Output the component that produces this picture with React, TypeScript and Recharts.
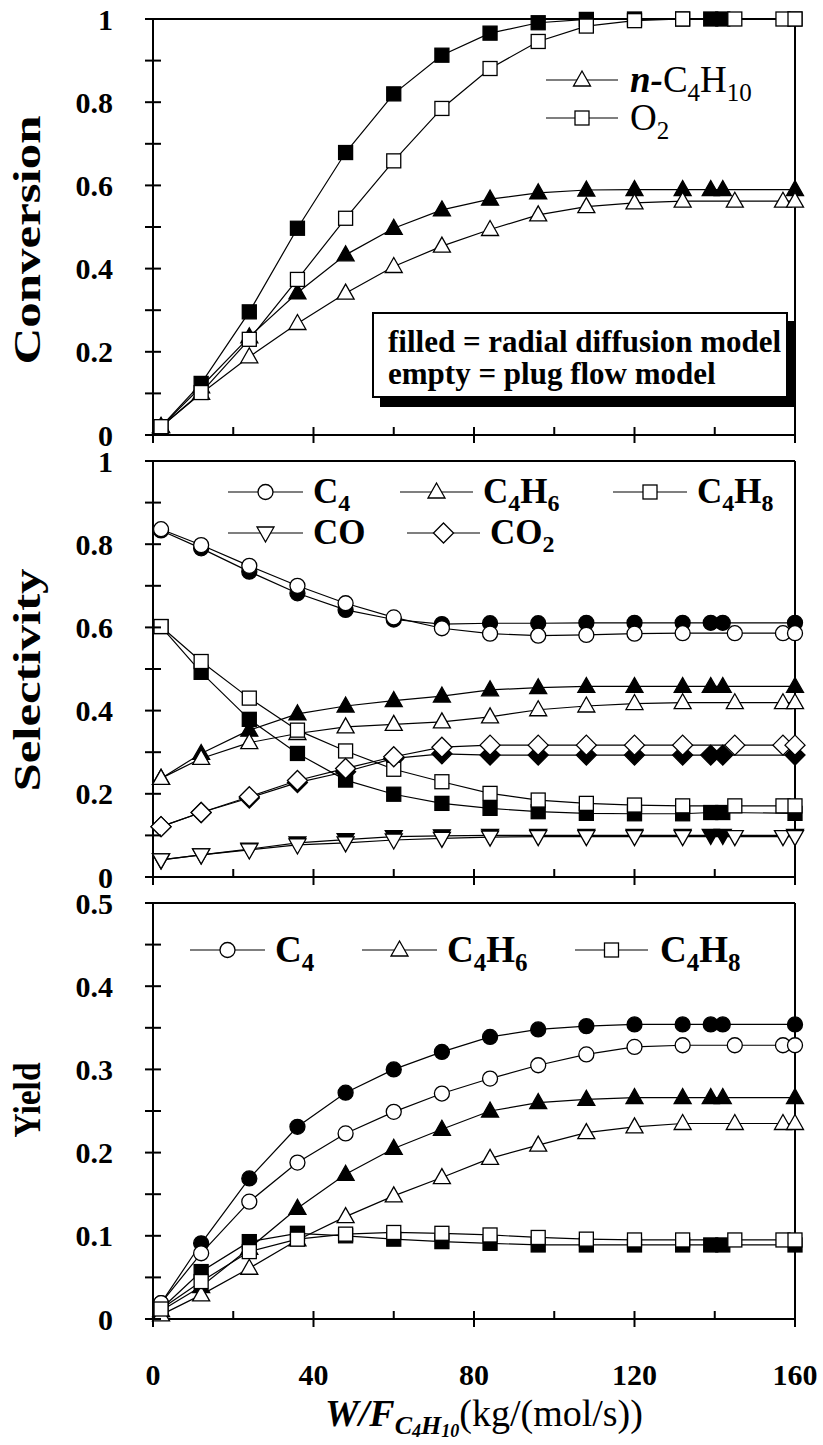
import React from "react";
import {
  ScatterChart,
  Scatter,
  XAxis,
  YAxis,
  ReferenceLine,
} from "recharts";

const SERIF = '"Liberation Serif", "Times New Roman", serif';

// W/F positions (kg/(mol/s)) of the two model runs
const xFilled = [2, 12, 24, 36, 48, 60, 72, 84, 96, 108, 120, 132, 139, 142, 160];
const xEmpty = [2, 12, 24, 36, 48, 60, 72, 84, 96, 108, 120, 132, 145, 157, 160];

// conversion
const convC4H10Filled = [0.02, 0.116, 0.236, 0.342, 0.433, 0.497, 0.541, 0.567, 0.582, 0.589, 0.59, 0.59, 0.59, 0.59, 0.59];
const convC4H10Empty = [0.02, 0.1, 0.188, 0.268, 0.341, 0.405, 0.454, 0.494, 0.529, 0.549, 0.558, 0.562, 0.562, 0.562, 0.562];
const convO2Filled = [0.02, 0.124, 0.296, 0.497, 0.679, 0.82, 0.913, 0.966, 0.991, 0.999, 1, 1, 1, 1, 1];
const convO2Empty = [0.02, 0.102, 0.23, 0.374, 0.521, 0.659, 0.785, 0.881, 0.946, 0.983, 0.996, 1, 1, 1, 1];

// selectivity
const selC4Filled = [0.833, 0.79, 0.734, 0.682, 0.642, 0.619, 0.608, 0.61, 0.61, 0.611, 0.611, 0.611, 0.611, 0.611, 0.611];
const selC4Empty = [0.836, 0.798, 0.748, 0.7, 0.658, 0.624, 0.598, 0.585, 0.58, 0.582, 0.585, 0.586, 0.586, 0.586, 0.586];
const selC4H6Filled = [0.237, 0.297, 0.353, 0.392, 0.411, 0.424, 0.435, 0.45, 0.455, 0.458, 0.458, 0.458, 0.458, 0.458, 0.458];
const selC4H6Empty = [0.237, 0.285, 0.323, 0.345, 0.361, 0.367, 0.373, 0.385, 0.402, 0.411, 0.417, 0.419, 0.419, 0.419, 0.419];
const selC4H8Filled = [0.602, 0.492, 0.379, 0.297, 0.233, 0.199, 0.177, 0.165, 0.157, 0.153, 0.152, 0.152, 0.155, 0.155, 0.153];
const selC4H8Empty = [0.602, 0.518, 0.43, 0.353, 0.303, 0.259, 0.229, 0.201, 0.185, 0.177, 0.173, 0.171, 0.171, 0.171, 0.171];
const selCOFilled = [0.041, 0.053, 0.067, 0.082, 0.09, 0.097, 0.099, 0.1, 0.1, 0.1, 0.1, 0.1, 0.1, 0.1, 0.1];
const selCOEmpty = [0.041, 0.053, 0.065, 0.077, 0.082, 0.089, 0.093, 0.096, 0.097, 0.097, 0.097, 0.097, 0.097, 0.097, 0.097];
const selCO2Filled = [0.121, 0.155, 0.19, 0.227, 0.253, 0.285, 0.296, 0.293, 0.293, 0.293, 0.293, 0.293, 0.293, 0.293, 0.293];
const selCO2Empty = [0.121, 0.155, 0.193, 0.232, 0.261, 0.289, 0.312, 0.317, 0.317, 0.317, 0.317, 0.317, 0.317, 0.317, 0.317];

// yield
const yieldC4Filled = [0.019, 0.091, 0.169, 0.231, 0.272, 0.3, 0.321, 0.339, 0.348, 0.352, 0.354, 0.354, 0.354, 0.354, 0.354];
const yieldC4Empty = [0.019, 0.079, 0.141, 0.188, 0.223, 0.249, 0.271, 0.289, 0.305, 0.318, 0.327, 0.329, 0.329, 0.329, 0.329];
const yieldC4H6Filled = [0.01, 0.039, 0.085, 0.133, 0.174, 0.205, 0.228, 0.25, 0.26, 0.264, 0.266, 0.266, 0.266, 0.266, 0.266];
const yieldC4H6Empty = [0.005, 0.029, 0.061, 0.095, 0.123, 0.148, 0.17, 0.193, 0.209, 0.224, 0.231, 0.235, 0.235, 0.235, 0.235];
const yieldC4H8Filled = [0.012, 0.057, 0.093, 0.103, 0.1, 0.096, 0.093, 0.091, 0.089, 0.089, 0.089, 0.089, 0.089, 0.089, 0.089];
const yieldC4H8Empty = [0.012, 0.045, 0.081, 0.096, 0.102, 0.104, 0.103, 0.101, 0.098, 0.096, 0.095, 0.095, 0.095, 0.095, 0.095];

// axes
const xTicks = [0, 20, 40, 60, 80, 100, 120, 140, 160];
const xLabelled = [0, 40, 80, 120, 160];
const unitTicks = [0, 0.1, 0.2, 0.3, 0.4, 0.5, 0.6, 0.7, 0.8, 0.9, 1];
const unitLabelled = [0, 0.2, 0.4, 0.6, 0.8, 1];
const yieldTicks = [0, 0.05, 0.1, 0.15, 0.2, 0.25, 0.3, 0.35, 0.4, 0.45, 0.5];
const yieldLabelled = [0, 0.1, 0.2, 0.3, 0.4, 0.5];

const pts = (xs: number[], ys: number[]) => xs.map((x, i) => ({ x, y: ys[i] }));
const has = (arr: number[], v: number) => arr.some((a) => Math.abs(a - v) < 1e-9);

type Kind = "square" | "circle" | "up" | "down" | "diamond";

function Marker({ kind, filled, cx, cy }: { kind: Kind; filled: boolean; cx: number; cy: number }) {
  const common = { fill: filled ? "#000" : "#fff", stroke: "#000", strokeWidth: 1.3 };
  switch (kind) {
    case "square":
      return <rect x={cx - 7} y={cy - 7} width={14} height={14} {...common} />;
    case "circle":
      return <circle cx={cx} cy={cy} r={7.5} {...common} />;
    case "up":
      return <polygon points={`${cx},${cy - 9} ${cx + 8.5},${cy + 6} ${cx - 8.5},${cy + 6}`} {...common} />;
    case "down":
      return <polygon points={`${cx},${cy + 9} ${cx + 8.5},${cy - 6} ${cx - 8.5},${cy - 6}`} {...common} />;
    default:
      return <polygon points={`${cx},${cy - 10} ${cx + 10},${cy} ${cx},${cy + 10} ${cx - 10},${cy}`} {...common} />;
  }
}

function XTick(props: any) {
  const { x, y, payload, showLabel } = props;
  const major = has(xLabelled, payload.value);
  return (
    <g>
      <line x1={x} x2={x} y1={y - 8} y2={major ? y + 8 : y} stroke="#000" strokeWidth={2} />
      {showLabel && major && (
        <text x={x} y={y + 55} textAnchor="middle" dominantBaseline="central"
          fontFamily={SERIF} fontWeight="bold" fontSize={30} fill="#000">
          {payload.value}
        </text>
      )}
    </g>
  );
}

function YTick(props: any) {
  const { x, y, payload, labelled } = props;
  return (
    <g>
      <line x1={x - 8} x2={x + 8} y1={y} y2={y} stroke="#000" strokeWidth={2} />
      {has(labelled, payload.value) && (
        <text x={x - 40} y={y} textAnchor="end" dominantBaseline="central"
          fontFamily={SERIF} fontWeight="bold" fontSize={30} fill="#000">
          {String(payload.value)}
        </text>
      )}
    </g>
  );
}

function YTitle({ text, cy, len }: { text: string; cy: number; len: number }) {
  return (
    <text x={27} y={cy} transform={`rotate(-90 27 ${cy})`} textAnchor="middle" dominantBaseline="central"
      fontFamily={SERIF} fontWeight="bold" fontSize={38} textLength={len} lengthAdjust="spacingAndGlyphs" fill="#000">
      {text}
    </text>
  );
}

function XTitle() {
  return (
    <text x={325} y={546} fontFamily={SERIF} fontSize={38} fill="#000">
      <tspan fontWeight="bold" fontStyle="italic">W/F</tspan>
      <tspan fontWeight="bold" fontStyle="italic" fontSize={26} dy={8}>C</tspan>
      <tspan fontWeight="bold" fontStyle="italic" fontSize={18} dy={3}>4</tspan>
      <tspan fontWeight="bold" fontStyle="italic" fontSize={26} dy={-3}>H</tspan>
      <tspan fontWeight="bold" fontStyle="italic" fontSize={18} dy={3}>10</tspan>
      <tspan fontSize={38} dy={-11}>(kg/(mol/s))</tspan>
    </text>
  );
}

type Series = { name: string; data: { x: number; y: number }[]; kind: Kind; filled: boolean };

function Panel(props: {
  top: number;
  height: number;
  marginTop: number;
  xAxisHeight: number;
  showXLabels: boolean;
  yMax: number;
  yTicks: number[];
  yLabelled: number[];
  title: React.ReactElement;
  xTitle?: React.ReactElement;
  series: Series[];
}) {
  const { top, height, marginTop, xAxisHeight, showXLabels, yMax, yTicks, yLabelled, title, xTitle, series } = props;
  return (
    <div style={{ position: "absolute", left: 0, top }}>
      <ScatterChart width={823} height={height} margin={{ top: marginTop, right: 28, bottom: 0, left: 0 }}>
        <XAxis type="number" dataKey="x" domain={[0, 160]} ticks={xTicks} interval={0}
          tickLine={false} tickSize={0} tickMargin={0} height={xAxisHeight}
          axisLine={{ stroke: "#000", strokeWidth: 2 }}
          tick={<XTick showLabel={showXLabels} />}
          label={xTitle} />
        <YAxis type="number" dataKey="y" domain={[0, yMax]} ticks={yTicks} interval={0}
          width={153} tickLine={false} tickSize={0} tickMargin={0}
          axisLine={{ stroke: "#000", strokeWidth: 2 }}
          tick={<YTick labelled={yLabelled} />}
          label={title} />
        <ReferenceLine y={yMax} stroke="#000" strokeWidth={2} />
        <ReferenceLine x={160} stroke="#000" strokeWidth={2} />
        {series.map((s) => (
          <Scatter key={s.name} name={s.name} data={s.data}
            line={{ stroke: "#000", strokeWidth: 1.2 }} lineType="joint"
            shape={(p: any) => <Marker kind={s.kind} filled={s.filled} cx={p.cx} cy={p.cy} />}
            isAnimationActive={false} />
        ))}
      </ScatterChart>
    </div>
  );
}

function LegendItem({ x1, x2, cy, kind }: { x1: number; x2: number; cy: number; kind: Kind }) {
  return (
    <g>
      <line x1={x1} x2={x2} y1={cy} y2={cy} stroke="#000" strokeWidth={1.2} />
      <Marker kind={kind} filled={false} cx={(x1 + x2) / 2} cy={cy} />
    </g>
  );
}

function Formula({ x, cy, parts, bold, size = 37 }: { x: number; cy: number; parts: [string, string][]; bold: boolean; size?: number }) {
  // parts: [main, subscript]
  const sub = Math.round(size * 0.24);
  return (
    <text x={x} y={cy + Math.round(size * 0.32)} fontFamily={SERIF} fontSize={size} fontWeight={bold ? "bold" : "normal"} fill="#000">
      {parts.map(([m, s], i) => (
        <React.Fragment key={i}>
          <tspan dy={i > 0 && parts[i - 1][1] ? -sub : 0}>{m}</tspan>
          {s && <tspan fontSize={Math.round(size * 0.68)} dy={sub}>{s}</tspan>}
        </React.Fragment>
      ))}
    </text>
  );
}

function Overlay() {
  return (
    <svg width={823} height={1445} style={{ position: "absolute", left: 0, top: 0, pointerEvents: "none" }}>
      {/* conversion legend */}
      <LegendItem x1={546} x2={618} cy={80} kind="up" />
      <text x={630} y={92} fontFamily={SERIF} fontSize={37} fill="#000">
        <tspan fontWeight="bold" fontStyle="italic">n-</tspan>
        <tspan>C</tspan>
        <tspan fontSize={25} dy={9}>4</tspan>
        <tspan dy={-9}>H</tspan>
        <tspan fontSize={25} dy={9}>10</tspan>
      </text>
      <LegendItem x1={546} x2={618} cy={118} kind="square" />
      <Formula x={630} cy={118} parts={[["O", "2"]]} bold={false} />

      {/* model note */}
      <rect x={380} y={321} width={414} height={86} fill="#000" />
      <rect x={373} y={313} width={414} height={84} fill="#fff" stroke="#000" strokeWidth={2} />
      <text x={388} y={352} fontFamily={SERIF} fontWeight="bold" fontSize={31} fill="#000">filled = radial diffusion model</text>
      <text x={388} y={384} fontFamily={SERIF} fontWeight="bold" fontSize={31} fill="#000">empty = plug flow model</text>

      {/* selectivity legend */}
      <LegendItem x1={228} x2={303} cy={492} kind="circle" />
      <Formula x={313} cy={492} parts={[["C", "4"]]} bold size={35} />
      <LegendItem x1={400} x2={473} cy={492} kind="up" />
      <Formula x={483} cy={492} parts={[["C", "4"], ["H", "6"]]} bold size={35} />
      <LegendItem x1={613} x2={687} cy={492} kind="square" />
      <Formula x={697} cy={492} parts={[["C", "4"], ["H", "8"]]} bold size={35} />
      <LegendItem x1={228} x2={303} cy={533} kind="down" />
      <Formula x={313} cy={533} parts={[["CO", ""]]} bold size={35} />
      <LegendItem x1={407} x2={480} cy={533} kind="diamond" />
      <Formula x={490} cy={533} parts={[["CO", "2"]]} bold size={35} />

      {/* yield legend */}
      <LegendItem x1={190} x2={265} cy={950} kind="circle" />
      <Formula x={275} cy={950} parts={[["C", "4"]]} bold />
      <LegendItem x1={362} x2={437} cy={950} kind="up" />
      <Formula x={447} cy={950} parts={[["C", "4"], ["H", "6"]]} bold />
      <LegendItem x1={575} x2={648} cy={950} kind="square" />
      <Formula x={660} cy={950} parts={[["C", "4"], ["H", "8"]]} bold />
    </svg>
  );
}

export default function App() {
  const conversion: Series[] = [
    { name: "C4H10 radial", data: pts(xFilled, convC4H10Filled), kind: "up", filled: true },
    { name: "O2 radial", data: pts(xFilled, convO2Filled), kind: "square", filled: true },
    { name: "C4H10 plug", data: pts(xEmpty, convC4H10Empty), kind: "up", filled: false },
    { name: "O2 plug", data: pts(xEmpty, convO2Empty), kind: "square", filled: false },
  ];
  const selectivity: Series[] = [
    { name: "C4 radial", data: pts(xFilled, selC4Filled), kind: "circle", filled: true },
    { name: "C4H6 radial", data: pts(xFilled, selC4H6Filled), kind: "up", filled: true },
    { name: "C4H8 radial", data: pts(xFilled, selC4H8Filled), kind: "square", filled: true },
    { name: "CO radial", data: pts(xFilled, selCOFilled), kind: "down", filled: true },
    { name: "CO2 radial", data: pts(xFilled, selCO2Filled), kind: "diamond", filled: true },
    { name: "C4 plug", data: pts(xEmpty, selC4Empty), kind: "circle", filled: false },
    { name: "C4H6 plug", data: pts(xEmpty, selC4H6Empty), kind: "up", filled: false },
    { name: "C4H8 plug", data: pts(xEmpty, selC4H8Empty), kind: "square", filled: false },
    { name: "CO plug", data: pts(xEmpty, selCOEmpty), kind: "down", filled: false },
    { name: "CO2 plug", data: pts(xEmpty, selCO2Empty), kind: "diamond", filled: false },
  ];
  const yieldSeries: Series[] = [
    { name: "C4 radial", data: pts(xFilled, yieldC4Filled), kind: "circle", filled: true },
    { name: "C4H6 radial", data: pts(xFilled, yieldC4H6Filled), kind: "up", filled: true },
    { name: "C4H8 radial", data: pts(xFilled, yieldC4H8Filled), kind: "square", filled: true },
    { name: "C4 plug", data: pts(xEmpty, yieldC4Empty), kind: "circle", filled: false },
    { name: "C4H6 plug", data: pts(xEmpty, yieldC4H6Empty), kind: "up", filled: false },
    { name: "C4H8 plug", data: pts(xEmpty, yieldC4H8Empty), kind: "square", filled: false },
  ];

  return (
    <div style={{ position: "absolute", left: 0, top: 0, width: 823, height: 1445, background: "#fff" }}>
      <Panel top={0} height={460} marginTop={19} xAxisHeight={25} showXLabels={false}
        yMax={1} yTicks={unitTicks} yLabelled={unitLabelled}
        title={<YTitle text="Conversion" cy={240} len={249} />} series={conversion} />
      <Panel top={440} height={460} marginTop={21} xAxisHeight={23} showXLabels={false}
        yMax={1} yTicks={unitTicks} yLabelled={unitLabelled}
        title={<YTitle text="Selectivity" cy={240} len={223} />} series={selectivity} />
      <Panel top={880} height={565} marginTop={23} xAxisHeight={126} showXLabels
        yMax={0.5} yTicks={yieldTicks} yLabelled={yieldLabelled}
        title={<YTitle text="Yield" cy={220} len={75} />} xTitle={<XTitle />} series={yieldSeries} />
      <Overlay />
    </div>
  );
}
